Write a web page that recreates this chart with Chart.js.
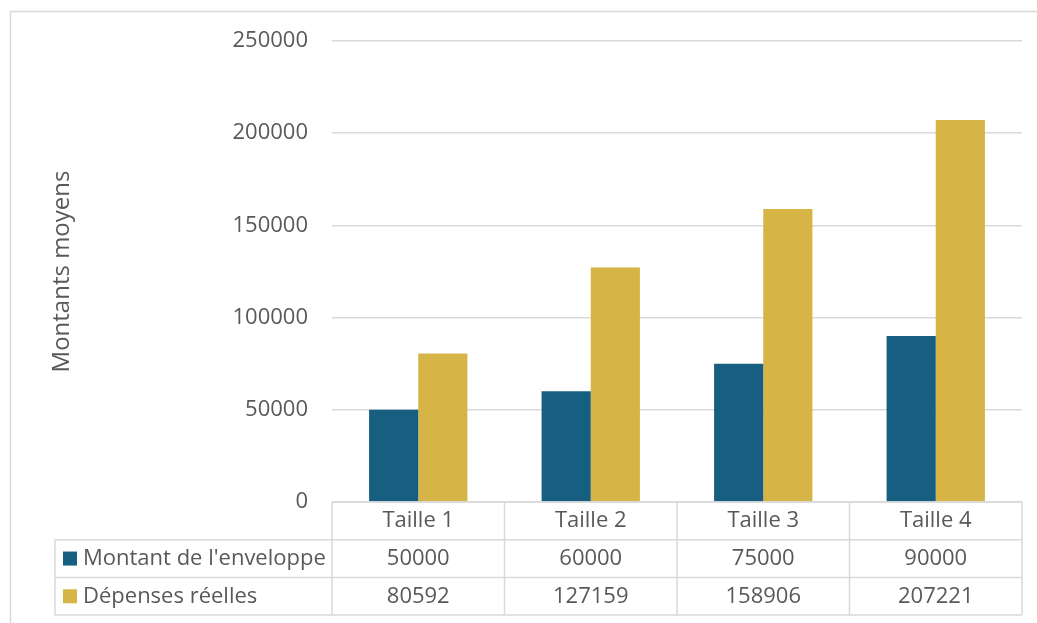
<!DOCTYPE html>
<html>
<head>
<meta charset="utf-8">
<script src="https://cdn.jsdelivr.net/npm/chart.js@4"></script>
<style>
  body { margin: 0; background: #fff; }
  #wrap { width: 1037px; height: 623px; position: relative; }
</style>
</head>
<body>
<div id="wrap"><canvas id="bar"></canvas></div>
<script>
// data
const categories = ['Taille 1', 'Taille 2', 'Taille 3', 'Taille 4'];
const enveloppe = [50000, 60000, 75000, 90000];
const depenses = [80592, 127159, 158906, 207221];
const seriesNames = ["Montant de l'enveloppe", 'Dépenses réelles'];
const yTitle = 'Montants moyens';

const blue = '#175f81';
const gold = '#d6b546';
const gridColor = '#d9d9d9';
const textColor = '#595959';
const fontFamily = '"Open Sans", sans-serif';

// frame of the chart (left + top edges only, the rest runs off the picture)
const framePlugin = {
    id: 'frame',
    beforeDraw(chart) {
        const ctx = chart.ctx;
        ctx.save();
        ctx.strokeStyle = gridColor;
        ctx.lineWidth = 1.5;
        ctx.beginPath();
        ctx.moveTo(10.5, 630);
        ctx.lineTo(10.5, 11.5);
        ctx.lineTo(1040, 11.5);
        ctx.stroke();
        ctx.restore();
    }
};

// data table under the plot, like excel
const tablePlugin = {
    id: 'dataTable',
    afterDraw(chart) {
        const ctx = chart.ctx;
        const x = chart.scales.x;
        const area = chart.chartArea;
        const rowH = 37.7;
        const top = area.bottom;
        const legendLeft = 55;
        const half = (x.getPixelForValue(1) - x.getPixelForValue(0)) / 2;
        const rows = [top, top + rowH, top + rowH * 2, top + rowH * 3];

        ctx.save();
        ctx.strokeStyle = gridColor;
        ctx.lineWidth = 1.5;
        ctx.beginPath();
        // horizontal lines
        ctx.moveTo(area.left, rows[0]);
        ctx.lineTo(area.right, rows[0]);
        for (let r = 1; r < 4; r++) {
            ctx.moveTo(legendLeft, rows[r]);
            ctx.lineTo(area.right, rows[r]);
        }
        // vertical lines
        ctx.moveTo(legendLeft, rows[1]);
        ctx.lineTo(legendLeft, rows[3]);
        ctx.moveTo(area.left, rows[0]);
        ctx.lineTo(area.left, rows[3]);
        categories.forEach((c, i) => {
            const xr = x.getPixelForValue(i) + half;
            ctx.moveTo(xr, rows[0]);
            ctx.lineTo(xr, rows[3]);
        });
        ctx.stroke();

        ctx.fillStyle = textColor;
        ctx.font = '22px ' + fontFamily;
        ctx.textBaseline = 'middle';
        ctx.textAlign = 'center';
        categories.forEach((c, i) => {
            ctx.fillText(c, x.getPixelForValue(i), rows[0] + rowH / 2);
        });
        const sets = chart.data.datasets;
        sets.forEach((ds, r) => {
            const cy = rows[r + 1] + rowH / 2;
            ctx.fillStyle = ds.backgroundColor;
            ctx.fillRect(63, cy - 7, 14, 14);
            ctx.fillStyle = textColor;
            ctx.textAlign = 'left';
            ctx.fillText(ds.label, 83, cy);
            ctx.textAlign = 'center';
            ds.data.forEach((v, i) => {
                ctx.fillText(String(v), x.getPixelForValue(i), cy);
            });
        });
        ctx.restore();
    }
};

new Chart(document.getElementById('bar'), {
    type: 'bar',
    data: {
        labels: categories,
        datasets: [{
            label: seriesNames[0],
            data: enveloppe,
            backgroundColor: blue
        }, {
            label: seriesNames[1],
            data: depenses,
            backgroundColor: gold
        }]
    },
    options: {
        responsive: true,
        maintainAspectRatio: false,
        animation: false,
        categoryPercentage: 0.57,
        barPercentage: 1.0,
        layout: {
            padding: { left: 0, right: 15, top: 41, bottom: 121 }
        },
        plugins: {
            legend: { display: false },
            tooltip: { enabled: false }
        },
        scales: {
            x: {
                display: false
            },
            y: {
                min: 0,
                max: 250000,
                afterFit(scale) {
                    scale.width = 332;
                },
                ticks: {
                    stepSize: 50000,
                    padding: 24,
                    color: textColor,
                    font: { family: fontFamily, size: 22 },
                    callback: v => String(v)
                },
                grid: {
                    color: gridColor,
                    lineWidth: 1.5,
                    drawTicks: false
                },
                border: { display: false },
                title: {
                    display: true,
                    text: yTitle,
                    color: textColor,
                    font: { family: fontFamily, size: 24 },
                    padding: { top: 48, bottom: 0 }
                }
            }
        }
    },
    plugins: [framePlugin, tablePlugin]
});
</script>
</body>
</html>
